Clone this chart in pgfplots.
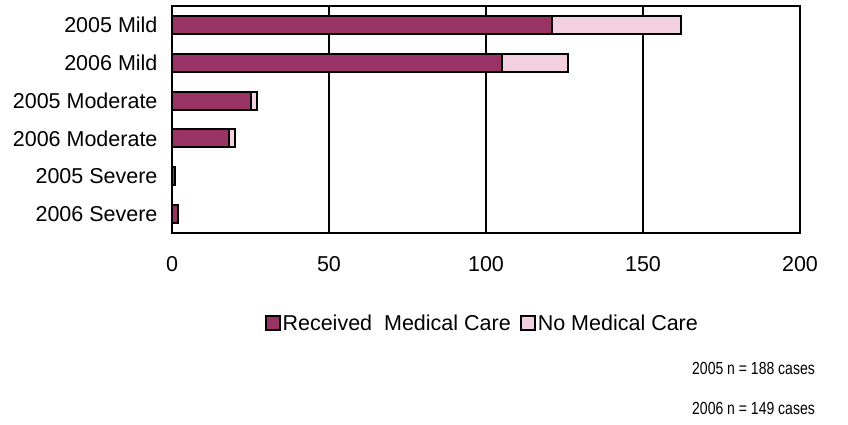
\documentclass[border=0pt]{standalone}
\usepackage{fontspec}
\setmainfont{Liberation Sans}
\newfontfamily\narrowfont[FakeStretch=0.80]{Liberation Sans}
\usepackage{pgfplots}
\pgfplotsset{compat=1.18}
\definecolor{careDark}{HTML}{993366}
\definecolor{careLight}{HTML}{F2D0E0}

\begin{document}
\begin{tikzpicture}
\useasboundingbox (0bp,0bp) rectangle (848bp,425bp);
\begin{axis}[
  at={(172bp,192bp)}, anchor=south west,
  width=628bp, height=227bp, scale only axis,
  xbar stacked, bar width=18bp,
  xmin=0, xmax=200, xtick={0,50,100,150,200},
  ymin=-0.5, ymax=5.5, y dir=reverse,
  ytick={0,1,2,3,4,5},
  yticklabels={2005 Mild,2006 Mild,2005 Moderate,2006 Moderate,2005 Severe,2006 Severe},
  major tick length=0pt,
  xmajorgrids, major grid style={black, line width=2bp},
  axis line style={black, line width=2.5bp},
  tick label style={font=\fontsize{21.5bp}{25bp}\selectfont},
  /pgf/number format/assume math mode=true,
  xticklabel style={yshift=-20bp},
  yticklabel style={xshift=-11bp},
  legend columns=2,
  legend style={at={(0.494,-0.398)}, anchor=center, draw=none, fill=none,
    font=\fontsize{21.5bp}{25bp}\selectfont,
    /tikz/every even column/.append style={column sep=7bp}},
  legend image code/.code={\draw[#1, line width=2bp] (0bp,-7bp) rectangle (14bp,7bp);},
]
% cases that received medical care
\addplot[fill=careDark, draw=black, line width=2bp]
  coordinates {(121,0) (105,1) (25,2) (18,3) (1,4) (2,5)};
% cases with no medical care
\addplot[fill=careLight, draw=black, line width=2bp]
  coordinates {(41,0) (21,1) (2,2) (2,3) (0,4) (0,5)};
\legend{Received\ \ Medical Care, No Medical Care}
\end{axis}
\node[anchor=east, inner sep=0pt, font=\narrowfont\fontsize{17.5bp}{20bp}\selectfont]
  at (815bp,57bp) {2005 n = 188 cases};
\node[anchor=east, inner sep=0pt, font=\narrowfont\fontsize{17.5bp}{20bp}\selectfont]
  at (815bp,17bp) {2006 n = 149 cases};
\end{tikzpicture}
\end{document}
